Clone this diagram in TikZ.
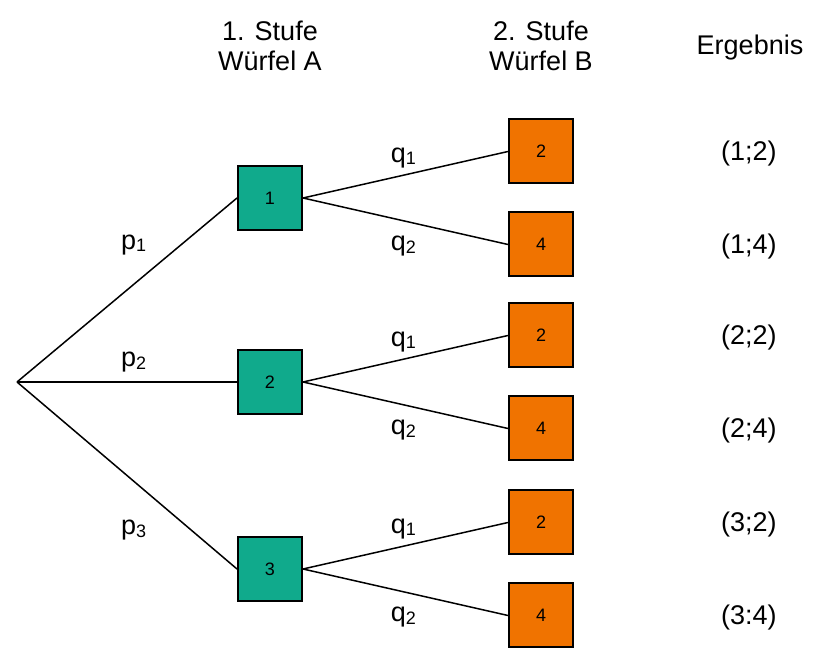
\documentclass[tikz,border=0pt]{standalone}
\usepackage{fontspec}
\setmainfont{Liberation Sans}
\usetikzlibrary{positioning}
\definecolor{wuerfelA}{RGB}{16,170,140}
\definecolor{wuerfelB}{RGB}{240,115,0}
\newcommand{\subidx}[1]{\raisebox{-2.5pt}{\fontsize{18pt}{18pt}\selectfont #1}}

\begin{document}
\begin{tikzpicture}[
        x=1pt, y=1pt,
        box_a/.style={rectangle, draw=black, fill=wuerfelA, line width=2pt, minimum size=64pt, inner sep=0pt, font=\fontsize{18pt}{18pt}\selectfont},
        box_b/.style={box_a, fill=wuerfelB},
        edge/.style={draw=black, line width=1.5pt},
        prob/.style={inner sep=0pt, font=\fontsize{27pt}{27pt}\selectfont},
        head/.style={align=center, inner sep=0pt, font=\fontsize{27pt}{30pt}\selectfont},
        result/.style={inner sep=0pt, yshift=-2pt, font=\fontsize{27pt}{27pt}\selectfont}
    ]
        \useasboundingbox (0,0) rectangle (814,661);

        % --- HEADINGS ---
        \node[head] (stufe1) at (270,615) {1. Stufe\\Würfel A};
        \node[head] (stufe2) at (541,615) {2. Stufe\\Würfel B};
        \node[head] (ergebnis) at (750,613) {Ergebnis};

        % --- NODES ---
        \coordinate (root) at (17,279);
        \node[box_a] (a1) at (270,463) {1};
        \node[box_a] (a2) at (270,279) {2};
        \node[box_a] (a3) at (270,92) {3};

        \node[box_b, right=205pt of a1, yshift=46.5pt] (b11) {2};
        \node[box_b, right=205pt of a1, yshift=-46.5pt] (b12) {4};
        \node[box_b, right=205pt of a2, yshift=46.5pt] (b21) {2};
        \node[box_b, right=205pt of a2, yshift=-46.5pt] (b22) {4};
        \node[box_b, right=205pt of a3, yshift=46.5pt] (b31) {2};
        \node[box_b, right=205pt of a3, yshift=-46.5pt] (b32) {4};

        \node[result, right=147pt of b11] (r11) {(1;2)};
        \node[result, right=147pt of b12] (r12) {(1;4)};
        \node[result, right=147pt of b21] (r21) {(2;2)};
        \node[result, right=147pt of b22] (r22) {(2;4)};
        \node[result, right=147pt of b31] (r31) {(3;2)};
        \node[result, right=147pt of b32] (r32) {(3:4)};

        % --- CONNECTIONS ---
        \draw[edge] (root) -- node[prob, pos=.53, above=29pt] {p\subidx{1}} (a1.west);
        \draw[edge] (root) -- node[prob, pos=.53, above=9pt] {p\subidx{2}} (a2.west);
        \draw[edge] (root) -- node[prob, pos=.53, below=38.5pt] {p\subidx{3}} (a3.west);

        \draw[edge] (a1.east) -- node[prob, pos=.49, above=6.5pt] {q\subidx{1}} (b11.west);
        \draw[edge] (a1.east) -- node[prob, pos=.49, below=14.5pt] {q\subidx{2}} (b12.west);
        \draw[edge] (a2.east) -- node[prob, pos=.49, above=6.5pt] {q\subidx{1}} (b21.west);
        \draw[edge] (a2.east) -- node[prob, pos=.49, below=14.5pt] {q\subidx{2}} (b22.west);
        \draw[edge] (a3.east) -- node[prob, pos=.49, above=6.5pt] {q\subidx{1}} (b31.west);
        \draw[edge] (a3.east) -- node[prob, pos=.49, below=14.5pt] {q\subidx{2}} (b32.west);

    \end{tikzpicture}
\end{document}
